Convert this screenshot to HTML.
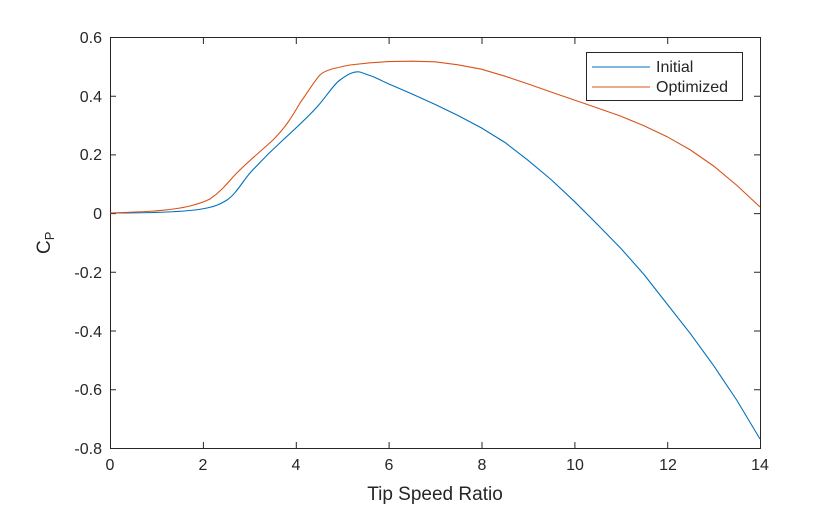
<!DOCTYPE html>
<html><head><style>body{margin:0;background:#fff}</style></head><body>
<svg width="840" height="506" xmlns="http://www.w3.org/2000/svg" font-family="Liberation Sans, sans-serif">
<rect width="840" height="506" fill="#fff"/>
<g stroke="#262626" stroke-width="1" fill="none">
<rect x="110.5" y="37.5" width="650" height="411"/>
</g>
<g stroke="#262626" stroke-width="1">
<path d="M110.5 448v-6M203.4 448v-6M296.3 448v-6M389.1 448v-6M482 448v-6M574.9 448v-6M667.7 448v-6M760.5 448v-6
M110.5 38v6M203.4 38v6M296.3 38v6M389.1 38v6M482 38v6M574.9 38v6M667.7 38v6
M110 37.5h6M110 96.2h6M110 154.9h6M110 213.6h6M110 272.3h6M110 331h6M110 389.7h6M110 448.5h6
M760 37.5h-6M760 96.2h-6M760 154.9h-6M760 213.6h-6M760 272.3h-6M760 331h-6M760 389.7h-6"/>
</g>
<g font-size="16" fill="#262626" text-anchor="middle">
<text x="110" y="470">0</text><text x="203" y="470">2</text><text x="296" y="470">4</text><text x="389" y="470">6</text><text x="482" y="470">8</text><text x="575" y="470">10</text><text x="668" y="470">12</text><text x="760" y="470">14</text>
<text x="435" y="500" font-size="19">Tip Speed Ratio</text>
</g>
<g font-size="16" fill="#262626" text-anchor="end">
<text x="102" y="43">0.6</text><text x="102" y="102">0.4</text><text x="102" y="160">0.2</text><text x="102" y="219">0</text><text x="102" y="278">-0.2</text><text x="102" y="337">-0.4</text><text x="102" y="395">-0.6</text><text x="102" y="454">-0.8</text>
</g>
<text x="0" y="0" font-size="19" fill="#262626" transform="translate(50,254) rotate(-90)">C<tspan font-size="13" dy="4">P</tspan></text>
<path fill="none" stroke="#0072bd" stroke-width="1.1" d="M110 213 C150 213,190 212,207 208 C217 206,222 203,227 200 C236 194,243 181,250 173 C260 162,272 150,283 140 C295 129,307 118,317 107 C327 96,333 85,340 80 C348 74,354 71,360 72 L374 77 L388.6 83.9 L411 93.5 L435 104.4 L458 115.5 L481.4 127.9 L505 142.5 L527.9 160.2 L551 179.5 L574.3 201.3 L597.5 224.5 L620.7 248.2 L644 274.5 L667.1 304 L690.5 333.8 L713.6 365.6 L737 400.5 L760 439"/>
<path fill="none" stroke="#d95319" stroke-width="1.1" d="M110 213 C140 212,170 211,190 206 C198 204,204 202,210 199 C220 192,226 185,233 177 C245 164,260 152,273 140 C285 128,292 117,300 103 C308 92,315 80,320 75 C325 70,335 68,350 65 L370 62.8 L388.6 61.6 L412 61.2 L435 61.8 L458 64.8 L481.4 69.2 L505 76.2 L527.9 83.9 L551 92 L574.3 100 L597.5 108 L620.7 116.1 L644 125.8 L667.1 136.7 L690.5 150 L713.6 166 L737 185.5 L760 207"/>
<rect x="586.5" y="52.5" width="156" height="48" fill="#fff" stroke="#262626"/>
<line x1="592" y1="67" x2="650" y2="67" stroke="#0072bd" stroke-width="1.1"/>
<line x1="592" y1="87" x2="650" y2="87" stroke="#d95319" stroke-width="1.1"/>
<text x="656" y="72" font-size="16" fill="#262626">Initial</text>
<text x="656" y="92" font-size="16" fill="#262626">Optimized</text>
</svg>
</body></html>
